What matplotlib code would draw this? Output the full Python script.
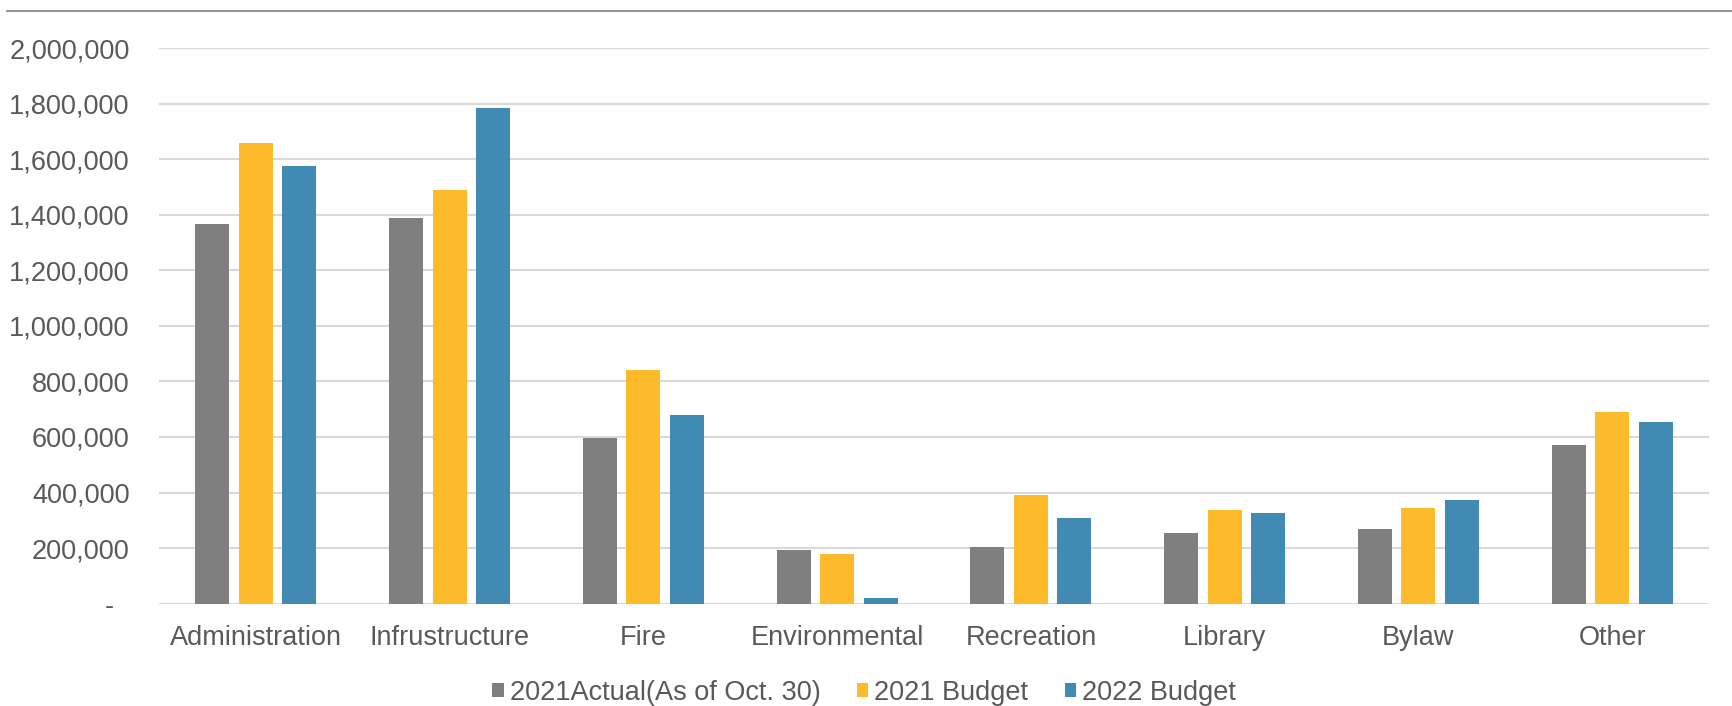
import matplotlib
matplotlib.use("Agg")
import matplotlib.pyplot as plt
from matplotlib.lines import Line2D
from matplotlib.ticker import FuncFormatter
from matplotlib.transforms import ScaledTranslation
import numpy as np

categories = ["Administration", "Infrustructure", "Fire", "Environmental",
              "Recreation", "Library", "Bylaw", "Other"]
series_names = ["2021Actual(As of Oct. 30)", "2021 Budget", "2022 Budget"]
actual_2021 = [1367000, 1388000, 596000, 194000, 205000, 256000, 270000, 571000]
budget_2021 = [1658000, 1489000, 841000, 180000, 392000, 338000, 346000, 690000]
budget_2022 = [1575000, 1784000, 679000, 22000, 310000, 328000, 374000, 654000]
y_ticks = [0, 200000, 400000, 600000, 800000, 1000000, 1200000, 1400000,
           1600000, 1800000, 2000000]

colors = ["#7F7F80", "#FDBB2C", "#418AB3"]
text_color = "#595959"

plt.rcParams['font.family'] = ['Liberation Sans', 'DejaVu Sans']

fig = plt.figure(figsize=(17.32, 7.06), dpi=100)
ax = fig.add_axes([159 / 1732, 1 - 603.7 / 706, 1550 / 1732, (603.7 - 48) / 706])

x = np.arange(len(categories))
width = 0.1755
offset = 0.2245
for i, (vals, name) in enumerate(zip([actual_2021, budget_2021, budget_2022], series_names)):
    ax.bar(x + (i - 1) * offset, vals, width=width, color=colors[i], label=name, zorder=3)

ax.set_xlim(-0.5, len(categories) - 0.5)
ax.set_ylim(0, 2000000)
ax.set_yticks(y_ticks)


def fmt(v, pos):
    if v == 0:
        return "-"
    return f"{int(v):,}"


ax.yaxis.set_major_formatter(FuncFormatter(fmt))
ax.set_xticks(x)
ax.set_xticklabels(categories)
ax.tick_params(axis='both', length=0, labelsize=19.5, colors=text_color)
ax.tick_params(axis='y', pad=21)
ax.tick_params(axis='x', pad=15)
ax.grid(axis='y', color='#D9D9D9', linewidth=1.5, zorder=0)
for s in ax.spines.values():
    s.set_visible(False)

# shift the zero label ("-") left, as in accounting number format
zero_tick = ax.yaxis.get_major_ticks()[0]
zero_tick.label1.set_transform(zero_tick.label1.get_transform() +
                               ScaledTranslation(-0.16, 0, fig.dpi_scale_trans))

leg = fig.legend(loc='center', bbox_to_anchor=(0.499, 1 - 693 / 706), ncol=3,
                 frameon=False, fontsize=19.5, handlelength=0.42, handleheight=0.42,
                 handletextpad=0.22, columnspacing=1.35, borderaxespad=0, borderpad=0)
for t in leg.get_texts():
    t.set_color(text_color)

fig.add_artist(Line2D([7 / 1732, 1.0], [1 - 10.5 / 706, 1 - 10.5 / 706],
                      transform=fig.transFigure, color='#7F7F7F', linewidth=1.2))

fig.savefig("out.png", dpi=100)
